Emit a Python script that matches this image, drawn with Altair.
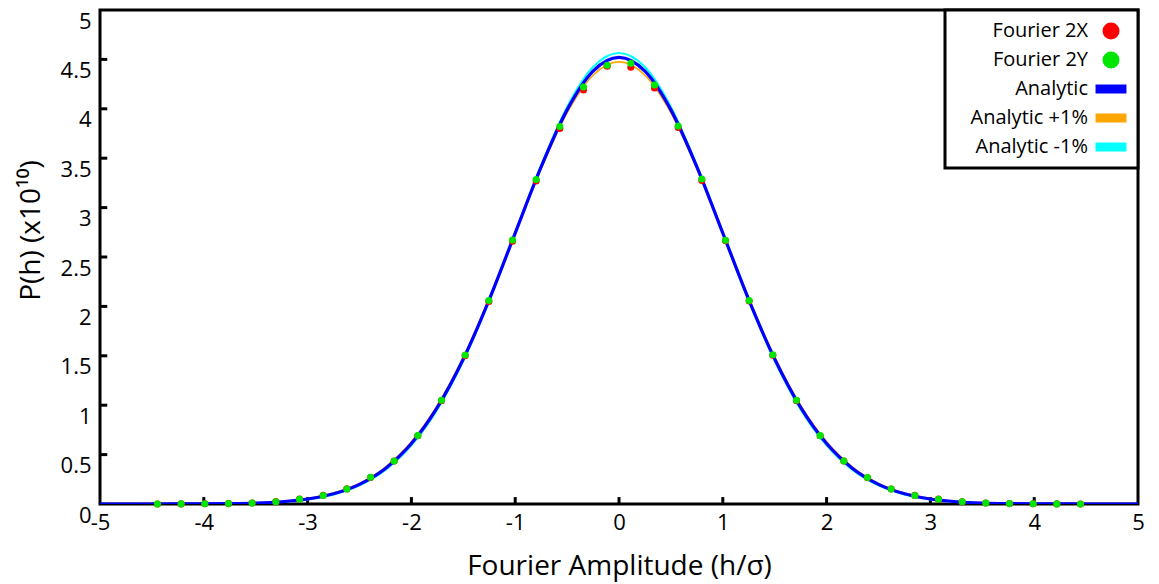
import altair as alt
import pandas as pd

# ---------------- data ----------------
series_names = ["Fourier 2X", "Fourier 2Y", "Analytic", "Analytic +1%", "Analytic -1%"]
series_colors = ["#ff0000", "#00e600", "#0000ff", "#ffa500", "#00ffff"]
RECT = "M-1.82,-0.53L1.82,-0.53L1.82,0.53L-1.82,0.53Z"
series_shapes = ["circle", "circle", RECT, RECT, RECT]

# Fourier amplitude bin centres (h/sigma)
x_points = [-4.446, -4.218, -3.990, -3.762, -3.534, -3.306, -3.078, -2.850, -2.622, -2.394,
            -2.166, -1.938, -1.710, -1.482, -1.254, -1.026, -0.798, -0.570, -0.342, -0.114,
            0.114, 0.342, 0.570, 0.798, 1.026, 1.254, 1.482, 1.710, 1.938, 2.166,
            2.394, 2.622, 2.850, 3.078, 3.306, 3.534, 3.762, 3.990, 4.218, 4.446]
fourier_2x = [0.000, 0.001, 0.002, 0.004, 0.010, 0.024, 0.050, 0.088, 0.153, 0.268,
              0.434, 0.690, 1.045, 1.500, 2.050, 2.660, 3.270, 3.800, 4.190, 4.430,
              4.420, 4.210, 3.810, 3.275, 2.665, 2.055, 1.505, 1.045, 0.690, 0.435,
              0.266, 0.152, 0.087, 0.049, 0.023, 0.010, 0.004, 0.002, 0.001, 0.000]
fourier_2y = [0.000, 0.001, 0.002, 0.004, 0.009, 0.023, 0.048, 0.086, 0.151, 0.270,
              0.436, 0.694, 1.050, 1.508, 2.060, 2.672, 3.285, 3.820, 4.220, 4.440,
              4.460, 4.240, 3.825, 3.290, 2.670, 2.060, 1.510, 1.050, 0.692, 0.434,
              0.268, 0.151, 0.086, 0.048, 0.022, 0.009, 0.004, 0.002, 0.001, 0.000]

# analytic curves
x_curve = [-5.0, -4.75, -4.5, -4.25, -4.0, -3.75, -3.5, -3.25, -3.0, -2.75, -2.5, -2.25, -2.0,
           -1.75, -1.5, -1.25, -1.0, -0.75, -0.5, -0.25, 0.0, 0.25, 0.5, 0.75, 1.0, 1.25, 1.5,
           1.75, 2.0, 2.25, 2.5, 2.75, 3.0, 3.25, 3.5, 3.75, 4.0, 4.25, 4.5, 4.75, 5.0]
analytic = [0.0, 0.0001, 0.0002, 0.0005, 0.0015, 0.0040, 0.0099, 0.0230, 0.0502, 0.103, 0.199,
            0.360, 0.612, 0.978, 1.467, 2.069, 2.742, 3.412, 3.989, 4.381, 4.520, 4.381, 3.989,
            3.412, 2.742, 2.069, 1.467, 0.978, 0.612, 0.360, 0.199, 0.103, 0.0502, 0.0230,
            0.0099, 0.0040, 0.0015, 0.0005, 0.0002, 0.0001, 0.0]
analytic_p1 = [0.0, 0.0001, 0.0002, 0.0006, 0.0018, 0.0045, 0.0110, 0.0253, 0.0543, 0.110, 0.209,
               0.374, 0.630, 0.997, 1.486, 2.081, 2.741, 3.397, 3.959, 4.340, 4.475, 4.340, 3.959,
               3.397, 2.741, 2.081, 1.486, 0.997, 0.630, 0.374, 0.209, 0.110, 0.0543, 0.0253,
               0.0110, 0.0045, 0.0018, 0.0006, 0.0002, 0.0001, 0.0]
analytic_m1 = [0.0, 0.0, 0.0001, 0.0005, 0.0013, 0.0035, 0.0088, 0.0209, 0.0463, 0.0964, 0.188,
               0.345, 0.593, 0.957, 1.449, 2.058, 2.742, 3.427, 4.019, 4.423, 4.566, 4.423, 4.019,
               3.427, 2.742, 2.058, 1.449, 0.957, 0.593, 0.345, 0.188, 0.0964, 0.0463, 0.0209,
               0.0088, 0.0035, 0.0013, 0.0005, 0.0001, 0.0, 0.0]

x_ticks = [-4, -3, -2, -1, 0, 1, 2, 3, 4]
y_ticks = [0.5, 1.0, 1.5, 2.0, 2.5, 3.0, 3.5, 4.0, 4.5]
x_labels = [-5, -4, -3, -2, -1, 0, 1, 2, 3, 4, 5]
y_labels = [0, 0.5, 1, 1.5, 2, 2.5, 3, 3.5, 4, 4.5, 5]

# ---------------- tables ----------------
pts = pd.DataFrame({
    "x": x_points + x_points,
    "y": fourier_2x + fourier_2y,
    "series": ["Fourier 2X"] * len(x_points) + ["Fourier 2Y"] * len(x_points),
})
curves = pd.DataFrame({
    "x": x_curve * 3,
    "y": analytic_p1 + analytic_m1 + analytic,
    "series": ["Analytic +1%"] * len(x_curve) + ["Analytic -1%"] * len(x_curve) + ["Analytic"] * len(x_curve),
})
xt = pd.DataFrame({"v": x_ticks})
yt = pd.DataFrame({"v": y_ticks})

FONT = "Open Sans"
xscale = alt.Scale(domain=[-5, 5], nice=False, zero=False)
yscale = alt.Scale(domain=[0, 5], nice=False, zero=False)
color_scale = alt.Scale(domain=series_names, range=series_colors)
shape_scale = alt.Scale(domain=series_names, range=series_shapes)

x_axis = alt.Axis(values=x_labels, labelExpr="datum.value + ''", title="Fourier Amplitude (h/σ)",
                  labelFlush=False, labelPadding=8, labelOverlap=False,
                  titleY=70, titleBaseline="alphabetic")
y_axis = alt.Axis(values=y_labels, labelExpr="datum.value + ''", title="P(h) (x10¹⁰)",
                  labelFlush=False, labelPadding=9, labelOffset=11, labelOverlap=False,
                  titleX=-55, titleY=220, titleAlign="center", titleBaseline="bottom", titleAngle=-90)


def line_layer(name, width):
    col = series_colors[series_names.index(name)]
    return alt.Chart(curves).transform_filter(alt.datum.series == name).mark_line(
        strokeWidth=width, interpolate="monotone", clip=True, color=col
    ).encode(
        x=alt.X("x:Q", scale=xscale, axis=x_axis),
        y=alt.Y("y:Q", scale=yscale, axis=y_axis),
    )


orange = line_layer("Analytic +1%", 1.6)
cyan = line_layer("Analytic -1%", 2)
blue = line_layer("Analytic", 3.2)

legend_kw = dict(
    title=None, orient="top-right", offset=0, padding=11,
    labelFont=FONT, labelFontSize=20, labelColor="black", labelAlign="right",
    labelOffset={"expr": "-33"}, symbolOffset=145, symbolSize=289, symbolStrokeWidth=0,
    rowPadding=9, labelLimit=300,
)

points = alt.Chart(pts).mark_point(filled=True, size=50, opacity=1).encode(
    x=alt.X("x:Q", scale=xscale, axis=x_axis),
    y=alt.Y("y:Q", scale=yscale, axis=y_axis),
    color=alt.Color("series:N", scale=color_scale, legend=alt.Legend(**legend_kw)),
    shape=alt.Shape("series:N", scale=shape_scale, legend=alt.Legend(**legend_kw)),
)

xtick_layer = alt.Chart(xt).mark_rule(color="black", strokeWidth=3).encode(
    x=alt.X("v:Q", scale=xscale, axis=x_axis),
    y=alt.YDatum(0, scale=yscale, axis=y_axis),
    y2=alt.datum(0.07),
)
ytick_layer = alt.Chart(yt).mark_rule(color="black", strokeWidth=3).encode(
    y=alt.Y("v:Q", scale=yscale, axis=y_axis),
    x=alt.XDatum(-5, scale=xscale, axis=x_axis),
    x2=alt.datum(-4.93),
)

chart = alt.layer(xtick_layer, ytick_layer, orange, cyan, blue, points).properties(
    width=1038, height=494, padding={"left": 9, "top": 0, "right": 5, "bottom": 4},
    background="white",
).configure_view(
    stroke="black", strokeWidth=3
).configure_axis(
    domain=False, ticks=False, grid=False,
    labelFont=FONT, labelFontSize=22, labelColor="black",
    titleFont=FONT, titleFontSize=28, titleFontWeight="normal", titleColor="black",
).configure_legend(
    strokeColor="black", strokeWidth=3, fillColor="white",
)

chart.save("out.html", embed_options={"renderer": "svg", "actions": False})
